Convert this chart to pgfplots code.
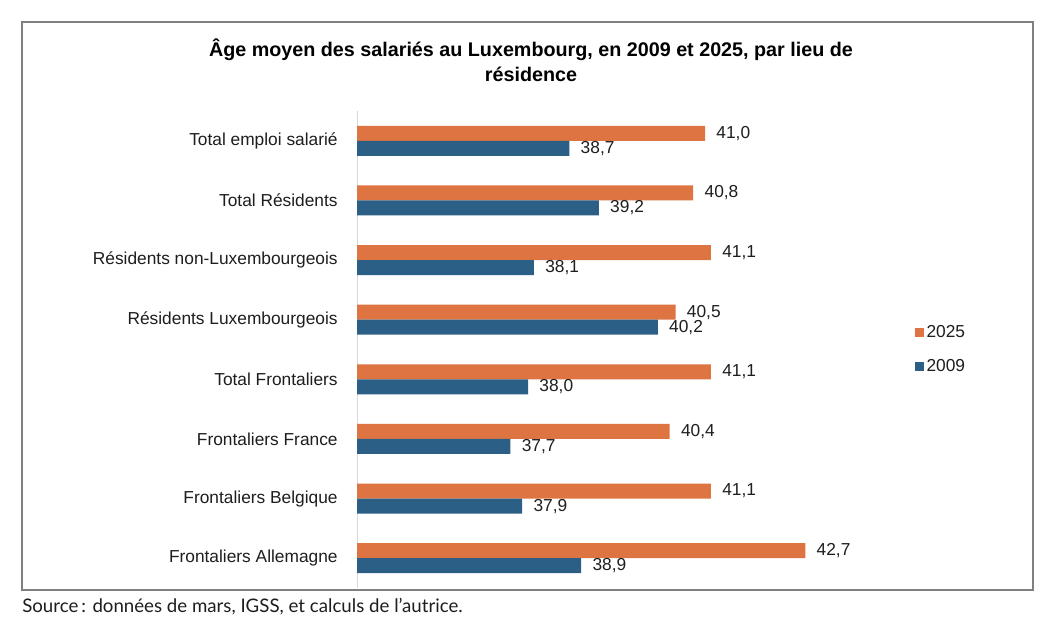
\documentclass[border=0pt]{standalone}
\usepackage{fontspec}
\setmainfont{Liberation Sans}
\newfontfamily\srcfont{Lato}
\usepackage{pgfplots}
\pgfplotsset{compat=1.18}
\definecolor{corange}{HTML}{DE7441}
\definecolor{cblue}{HTML}{2C5F85}
\definecolor{ctext}{HTML}{1E1E1E}
\begin{document}
\begin{tikzpicture}[x=0.75pt,y=-0.75pt]
\path[use as bounding box] (0,0) rectangle (1060,628);
\fill[white] (0,0) rectangle (1060,628);
\draw[line width=1.1pt, color=black!50] (22,22) rectangle (1033,590);
\node[font=\bfseries\fontsize{14.8}{18.75}\selectfont, align=center, text=black] at (531,60.5) {Âge moyen des salariés au Luxembourg, en 2009 et 2025, par lieu de\\résidence};
\node[font=\srcfont\fontsize{14}{16}\selectfont, anchor=west, inner sep=0pt, text=ctext] at (22,607) {Source\,: données de mars, IGSS, et calculs de l’autrice.};
\begin{axis}[
  at={(267.75pt,-83.25pt)}, anchor=north west,
  scale only axis, width=393.75pt, height=357.75pt,
  xbar, bar width=11.25pt,
  xmin=35.1, xmax=44, ymin=-0.5, ymax=7.5, y dir=reverse,
  axis x line=none, axis y line=left,
  y axis line style={draw=black!15, line width=0.6pt, -},
  xtick=\empty,
  ytick={0,...,7},
  yticklabels={Total emploi salarié, Total Résidents, Résidents non-Luxembourgeois, Résidents Luxembourgeois, Total Frontaliers, Frontaliers France, Frontaliers Belgique, Frontaliers Allemagne},
  major tick length=0pt,
  yticklabel style={font=\fontsize{13}{15}\selectfont, text=ctext, xshift=-11pt},
  point meta=x,
  nodes near coords={\pgfmathprintnumber[fixed,fixed zerofill,precision=1,use comma,assume math mode=true]{\pgfplotspointmeta}},
  nodes near coords style={font=\fontsize{13}{15}\selectfont, text=ctext, xshift=5pt},
  clip=false,
  legend cell align=left,
  legend style={at={(1.063,0.5)}, anchor=west, draw=none, fill=none, font=\fontsize{13}{15}\selectfont, text=ctext, row sep=11pt, inner sep=0pt},
  legend image code/.code={\fill[#1] (0pt,-3.2pt) rectangle (6.4pt,3.2pt);},
]
\addplot[fill=corange, draw=none, bar shift=5.625pt] coordinates {
  (41.0,0) (40.8,1) (41.1,2) (40.5,3) (41.1,4) (40.4,5) (41.1,6) (42.7,7)};
\addlegendentry{2025}
\addplot[fill=cblue, draw=none, bar shift=-5.625pt] coordinates {
  (38.7,0) (39.2,1) (38.1,2) (40.2,3) (38.0,4) (37.7,5) (37.9,6) (38.9,7)};
\addlegendentry{2009}
\end{axis}
\end{tikzpicture}
\end{document}
